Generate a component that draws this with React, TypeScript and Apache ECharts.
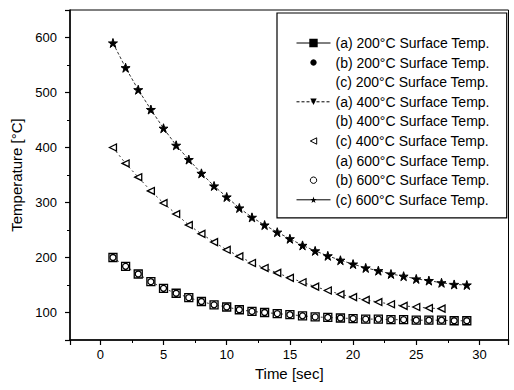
import React, { useEffect, useRef } from "react";
import * as echarts from "echarts";

const time = [1, 2, 3, 4, 5, 6, 7, 8, 9, 10, 11, 12, 13, 14, 15, 16, 17, 18, 19, 20, 21, 22, 23, 24, 25, 26, 27, 28, 29];
const temp200 = [200, 184, 170, 156, 144, 135, 127, 120, 114, 110, 105, 102, 100, 98, 96, 94, 92, 91, 90, 89, 88, 88, 87, 87, 86, 86, 86, 85, 85];
const temp400 = [400, 371, 346, 321, 299, 279, 259, 243, 228, 214, 202, 190, 181, 172, 163, 155, 147, 140, 133, 128, 123, 119, 115, 112, 110, 108, 107];
const temp600 = [590, 545, 505, 469, 435, 404, 378, 353, 330, 310, 290, 273, 259, 246, 234, 222, 212, 203, 195, 188, 181, 176, 170, 166, 161, 158, 154, 151, 150];
const xTicks = [0, 5, 10, 15, 20, 25, 30];
const yTicks = [100, 200, 300, 400, 500, 600];
const names = [
  "(a) 200°C Surface Temp.",
  "(b) 200°C Surface Temp.",
  "(c) 200°C Surface Temp.",
  "(a) 400°C Surface Temp.",
  "(b) 400°C Surface Temp.",
  "(c) 400°C Surface Temp.",
  "(a) 600°C Surface Temp.",
  "(b) 600°C Surface Temp.",
  "(c) 600°C Surface Temp.",
];

const STAR =
  "path://M50,0 L61.8,35.4 L100,35.4 L69.1,57.3 L80.9,92.7 L50,70.8 L19.1,92.7 L30.9,57.3 L0,35.4 L38.2,35.4 Z";

const pairs = (vals: number[]) => vals.map((v, i) => [time[i], v]);

export default function App() {
  const ref = useRef<HTMLDivElement>(null);
  useEffect(() => {
    const chart = echarts.init(ref.current!, null, { renderer: "svg" });
    const font = "'Liberation Sans', Arial, sans-serif";
    const hidden = { opacity: 0 };
    const noLine = { opacity: 0 };
    chart.setOption({
      animation: false,
      backgroundColor: "#fff",
      grid: {
        left: 70,
        right: 5.5,
        top: 10,
        bottom: 50,
        show: true,
        borderColor: "#000",
        borderWidth: 1,
        backgroundColor: "transparent",
      },
      xAxis: {
        type: "value",
        min: -2.4,
        max: 32.3,
        name: "Time [sec]",
        nameLocation: "middle",
        nameGap: 25,
        nameTextStyle: { fontFamily: font, fontSize: 15, color: "#000" },
        axisLine: { show: true, onZero: false, lineStyle: { color: "#000", width: 1.5 } },
        axisTick: { show: true, inside: false, length: 5, lineStyle: { color: "#000", width: 1.2 } },
        minorTick: { show: true, splitNumber: 2, length: 3, lineStyle: { color: "#000", width: 1 } },
        splitLine: { show: false },
        axisLabel: {
          margin: 8,
          fontFamily: font,
          fontSize: 13,
          color: "#000",
          formatter: (v: number) => (xTicks.includes(v) ? String(v) : ""),
        },
      },
      yAxis: {
        type: "value",
        min: 50,
        max: 650,
        name: "Temperature [°C]",
        nameLocation: "middle",
        nameGap: 40,
        nameTextStyle: { fontFamily: font, fontSize: 15, color: "#000" },
        axisLine: { show: true, onZero: false, lineStyle: { color: "#000", width: 1.5 } },
        axisTick: { show: true, inside: false, length: 5, lineStyle: { color: "#000", width: 1.2 } },
        minorTick: { show: true, splitNumber: 2, length: 3, lineStyle: { color: "#000", width: 1 } },
        splitLine: { show: false },
        axisLabel: {
          margin: 13,
          fontFamily: font,
          fontSize: 13,
          color: "#000",
          formatter: (v: number) => (yTicks.includes(v) ? String(v) : ""),
        },
      },
      legend: {
        orient: "vertical",
        left: 277,
        top: 13,
        padding: [23, 17, 11, 19],
        itemGap: 5.6,
        itemWidth: 34,
        itemHeight: 8,
        itemTextGap: 5,
        borderColor: "#000",
        borderWidth: 1.2,
        backgroundColor: "#fff",
        textStyle: { fontFamily: font, fontSize: 14, color: "#000", lineHeight: 14 },
        data: [
          { name: names[0], itemStyle: { color: "#000", borderColor: "#000" }, lineStyle: { type: "solid", width: 1, color: "#000" } },
          { name: names[1], itemStyle: { color: "#000", borderColor: "#000" }, lineStyle: noLine },
          { name: names[2], itemStyle: hidden, lineStyle: noLine },
          { name: names[3], itemStyle: { color: "#000", borderColor: "#000" }, lineStyle: { type: [3, 2], width: 1, color: "#000" } },
          { name: names[4], itemStyle: hidden, lineStyle: noLine },
          { name: names[5], itemStyle: { color: "#fff", borderColor: "#000", borderWidth: 1 }, lineStyle: noLine },
          { name: names[6], itemStyle: hidden, lineStyle: noLine },
          { name: names[7], itemStyle: { color: "#fff", borderColor: "#000", borderWidth: 1 }, lineStyle: noLine },
          { name: names[8], itemStyle: { color: "#000", borderColor: "#000" }, lineStyle: { type: "solid", width: 1, color: "#000" } },
        ],
      },
      series: [
        {
          name: names[0],
          type: "line",
          data: pairs(temp200),
          symbol: "rect",
          symbolSize: 8,
          itemStyle: { color: "#fff", borderColor: "#000", borderWidth: 1.3 },
          lineStyle: { color: "#000", width: 0.8, type: [2, 3] },
          z: 3,
        },
        {
          name: names[1],
          type: "line",
          data: [],
          symbol: "circle",
          symbolSize: 7,
          itemStyle: { color: "#000" },
          lineStyle: { width: 0 },
        },
        { name: names[2], type: "line", data: [], symbol: "none", lineStyle: { width: 0 } },
        {
          name: names[3],
          type: "line",
          data: pairs(temp400),
          symbol: "triangle",
          symbolRotate: 180,
          showSymbol: false,
          itemStyle: { color: "#000" },
          lineStyle: { color: "#000", width: 0.8, type: [2, 3] },
        },
        { name: names[4], type: "line", data: [], symbol: "none", lineStyle: { width: 0 } },
        {
          name: names[5],
          type: "line",
          data: pairs(temp400),
          symbol: "triangle",
          symbolRotate: 90,
          symbolSize: 7,
          itemStyle: { color: "#fff", borderColor: "#000", borderWidth: 1.3 },
          lineStyle: { width: 0 },
          z: 4,
        },
        { name: names[6], type: "line", data: [], symbol: "none", lineStyle: { width: 0 } },
        {
          name: names[7],
          type: "line",
          data: pairs(temp200),
          symbol: "circle",
          symbolSize: 6,
          itemStyle: { color: "#fff", borderColor: "#000", borderWidth: 1.3 },
          lineStyle: { width: 0 },
          z: 4,
        },
        {
          name: names[8],
          type: "line",
          data: pairs(temp600),
          symbol: STAR,
          symbolSize: 9,
          itemStyle: { color: "#000", borderColor: "#000" },
          lineStyle: { color: "#000", width: 0.8, type: [3, 2] },
          z: 4,
        },
      ],
    });
    return () => chart.dispose();
  }, []);
  return <div ref={ref} style={{ width: 514, height: 390, position: "fixed", left: 0, top: 0, background: "#fff" }} />;
}
